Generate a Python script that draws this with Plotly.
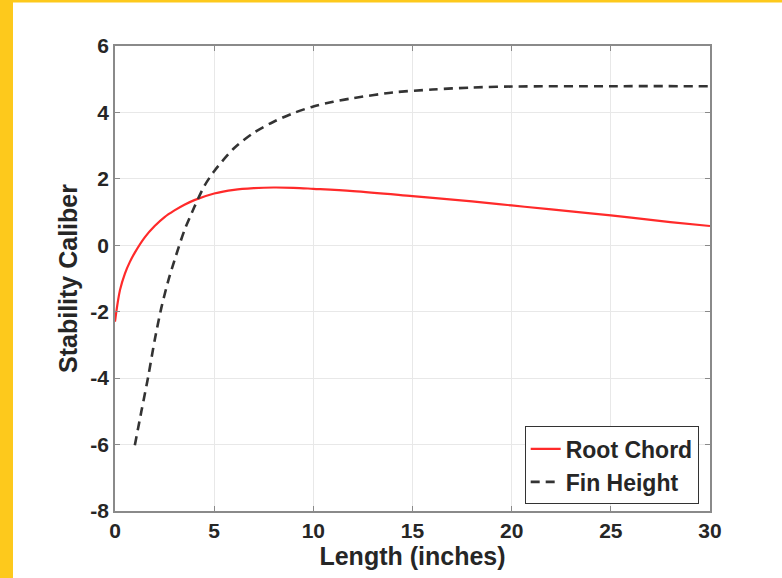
import plotly.graph_objects as go

# Data
root_x = [0, 0.25, 0.5, 0.75, 1, 1.5, 2, 2.5, 3, 3.5, 4, 5, 6, 7, 8, 9, 10, 12, 15, 18, 20, 22, 25, 28, 30]
root_y = [-2.30, -1.35, -0.85, -0.50, -0.22, 0.24, 0.58, 0.85, 1.05, 1.22, 1.36, 1.56, 1.67, 1.72, 1.74, 1.73, 1.70, 1.63, 1.48, 1.32, 1.20, 1.08, 0.90, 0.70, 0.58]

fin_x = [1, 1.33, 1.67, 2, 2.33, 2.67, 3, 3.5, 4, 4.5, 5, 6, 7, 8, 9, 10, 11, 12, 14, 16, 18, 20, 25, 30]
fin_y = [-6.02, -5.0, -3.97, -2.86, -1.9, -1.1, -0.45, 0.45, 1.15, 1.78, 2.23, 2.92, 3.39, 3.72, 3.98, 4.18, 4.32, 4.43, 4.6, 4.69, 4.75, 4.78, 4.79, 4.79]

x_ticks = [0, 5, 10, 15, 20, 25, 30]
x_labels = ["0", "5", "10", "15", "20", "25", "30"]
y_ticks = [-8, -6, -4, -2, 0, 2, 4, 6]
y_labels = ["-8", "-6", "-4", "-2", "0", "2", "4", "6"]

W, H = 782, 578
ML, MR, MT, MB = 115, 72, 46, 67
PW = W - ML - MR
PH = H - MT - MB

FONT = "Liberation Sans, Arial, sans-serif"
TXT = "#262626"
AX = "#8a8a8a"

fig = go.Figure()
fig.add_trace(go.Scatter(x=root_x, y=root_y, mode="lines", name="Root Chord",
                         line=dict(color="#ff2a2a", width=2.2, shape="spline", smoothing=1.0)))
fig.add_trace(go.Scatter(x=fin_x, y=fin_y, mode="lines", name="Fin Height",
                         line=dict(color="#333333", width=2.6, dash="9px,6px", shape="spline", smoothing=0.8)))

axis_common = dict(
    showline=True, linecolor=AX, linewidth=1.5, mirror="ticks",
    ticks="inside", ticklen=5, tickcolor=AX, tickwidth=1,
    showgrid=True, gridcolor="#e8e8e8", gridwidth=1,
    zeroline=False,
    tickfont=dict(family=FONT, size=21, color=TXT, weight="bold"),
)

fig.update_layout(
    width=W, height=H,
    margin=dict(l=ML, r=MR, t=MT, b=MB),
    paper_bgcolor="white", plot_bgcolor="white",
    showlegend=True,
    legend=dict(x=0.981, y=0.014, xanchor="right", yanchor="bottom",
                bgcolor="white", bordercolor="#333333", borderwidth=1,
                font=dict(family=FONT, size=23, color=TXT, weight="bold"),
                tracegroupgap=0, itemwidth=30),
    xaxis=dict(range=[0, 30], tickvals=x_ticks, ticktext=x_labels, **axis_common,
               title=dict(text="Length (inches)", standoff=2,
                          font=dict(family=FONT, size=25, color=TXT, weight="bold"))),
    yaxis=dict(range=[-8, 6], tickvals=y_ticks, ticktext=y_labels, **axis_common,
               title=dict(text="Stability Caliber", standoff=6,
                          font=dict(family=FONT, size=25, color=TXT, weight="bold"))),
    shapes=[
        dict(type="rect", xref="paper", yref="paper",
             x0=-ML / PW, x1=(13 - ML) / PW, y0=-MB / PH, y1=(PH + MT) / PH,
             fillcolor="#FDC91C", line=dict(width=0), layer="above"),
        dict(type="rect", xref="paper", yref="paper",
             x0=-ML / PW, x1=(PW + MR) / PW, y0=(PH + MT - 2.5) / PH, y1=(PH + MT) / PH,
             fillcolor="#FDC91C", line=dict(width=0), layer="above"),
    ],
)
fig.update_xaxes(automargin=False)
fig.update_yaxes(automargin=False)

fig.write_html("out.html")
